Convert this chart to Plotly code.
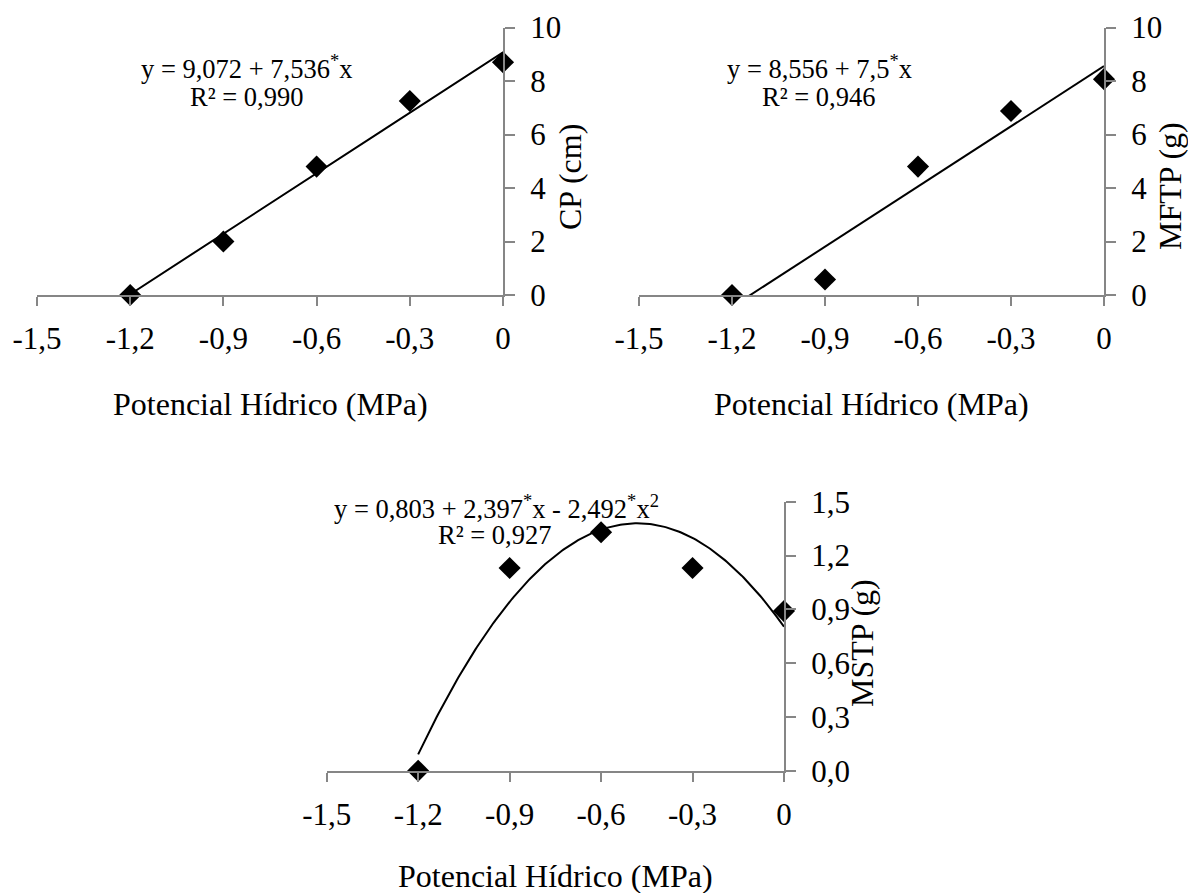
import numpy as np
import plotly.graph_objects as go

# Water potential levels (MPa)
potencial = [-1.2, -0.9, -0.6, -0.3, 0.0]

# Measured responses
cp = [0.0, 2.0, 4.8, 7.25, 8.7]        # CP (cm)
mftp = [0.0, 0.58, 4.8, 6.88, 8.07]    # MFTP (g)
mstp = [0.0, 1.13, 1.33, 1.13, 0.89]   # MSTP (g)

# Regression coefficients
cp_coef = (9.072, 7.536)
mftp_coef = (8.556, 7.5)
mstp_coef = (0.803, 2.397, -2.492)   # fitted on the magnitude of the potential

x_ticks = [-1.5, -1.2, -0.9, -0.6, -0.3, 0.0]
x_ticktext = ["-1,5", "-1,2", "-0,9", "-0,6", "-0,3", "0"]
y_ticks_10 = [0, 2, 4, 6, 8, 10]
y_ticktext_10 = ["0", "2", "4", "6", "8", "10"]
y_ticks_15 = [0.0, 0.3, 0.6, 0.9, 1.2, 1.5]
y_ticktext_15 = ["0,0", "0,3", "0,6", "0,9", "1,2", "1,5"]

W, H = 1188, 893
FONT = "Liberation Serif"
AXIS_GRAY = "#868686"

xf = np.linspace(-1.2, 0.0, 200)
cp_fit = cp_coef[0] + cp_coef[1] * xf
mftp_fit = mftp_coef[0] + mftp_coef[1] * xf
mag = -xf
mstp_fit = mstp_coef[0] + mstp_coef[1] * mag + mstp_coef[2] * mag ** 2

fig = go.Figure()

panels = [
    ("x", "y", cp, cp_fit),
    ("x2", "y2", mftp, mftp_fit),
    ("x3", "y3", mstp, mstp_fit),
]
for xa, ya, vals, fit in panels:
    fig.add_trace(go.Scatter(
        x=xf, y=fit, xaxis=xa, yaxis=ya, mode="lines",
        line=dict(color="black", width=2), showlegend=False, hoverinfo="skip",
    ))
    fig.add_trace(go.Scatter(
        x=potencial, y=vals, xaxis=xa, yaxis=ya, mode="markers",
        marker=dict(symbol="diamond", size=17, color="black"),
        cliponaxis=False, showlegend=False,
    ))


def px_x(p):
    return p / W


def px_y(p):
    return 1 - p / H


def xaxis_cfg(x0, x1, anchor):
    return dict(
        domain=[px_x(x0), px_x(x1)], anchor=anchor, range=[-1.5, 0.0],
        tickmode="array", tickvals=x_ticks, ticktext=x_ticktext,
        showline=True, linecolor=AXIS_GRAY, linewidth=2,
        ticks="outside", ticklen=9, tickwidth=2, tickcolor=AXIS_GRAY,
        showgrid=False, zeroline=False, automargin=False,
        tickfont=dict(family=FONT, size=31, color="black"),
        ticklabelstandoff=6, fixedrange=True,
    )


def yaxis_cfg(y0, y1, anchor, rng, tv, tt):
    return dict(
        domain=[px_y(y1), px_y(y0)], anchor=anchor, side="right", range=rng,
        tickmode="array", tickvals=tv, ticktext=tt,
        showline=True, linecolor=AXIS_GRAY, linewidth=2,
        ticks="outside", ticklen=10, tickwidth=2, tickcolor=AXIS_GRAY,
        showgrid=False, zeroline=False, automargin=False,
        tickfont=dict(family=FONT, size=31, color="black"),
        ticklabelstandoff=9, fixedrange=True,
    )


fig.update_layout(
    template="none",
    width=W, height=H,
    margin=dict(l=0, r=0, t=0, b=0, pad=0, autoexpand=False),
    paper_bgcolor="white", plot_bgcolor="white",
    font=dict(family=FONT, color="black"),
    xaxis=xaxis_cfg(37, 503, "y"),
    yaxis=yaxis_cfg(27.5, 295, "x", [0, 10], y_ticks_10, y_ticktext_10),
    xaxis2=xaxis_cfg(639, 1104, "y2"),
    yaxis2=yaxis_cfg(27.5, 295, "x2", [0, 10], y_ticks_10, y_ticktext_10),
    xaxis3=xaxis_cfg(326.7, 784, "y3"),
    yaxis3=yaxis_cfg(501.7, 770.7, "x3", [0, 1.5], y_ticks_15, y_ticktext_15),
)

annotations = []


def text_at(px, py, txt, size, angle=0):
    annotations.append(dict(
        x=px_x(px), y=px_y(py), xref="paper", yref="paper", text=txt,
        showarrow=False, xanchor="center", yanchor="middle", textangle=angle,
        font=dict(family=FONT, size=size, color="black"),
    ))


# Axis titles
x_title = "Potencial Hídrico (MPa)"
text_at(270, 404, x_title, 32)
text_at(871, 404, x_title, 32)
text_at(555, 876, x_title, 32)
text_at(570, 177, "CP (cm)", 32, -90)
text_at(1170, 186, "MFTP (g)", 32, -90)
text_at(862, 643, "MSTP (g)", 32, -90)

# Regression equations
text_at(246, 67, "y = 9,072 + 7,536<sup>*</sup>x", 26.5)
text_at(246, 97, "R² = 0,990", 26.5)
text_at(819, 67, "y = 8,556 + 7,5<sup>*</sup>x", 26.5)
text_at(818, 97, "R² = 0,946", 26.5)
text_at(496, 507, "y = 0,803 + 2,397<sup>*</sup>x - 2,492<sup>*</sup>x<sup>2</sup>", 26.5)
text_at(494, 535, "R² = 0,927", 26.5)

fig.update_layout(annotations=annotations)

fig.write_html("out.html")
